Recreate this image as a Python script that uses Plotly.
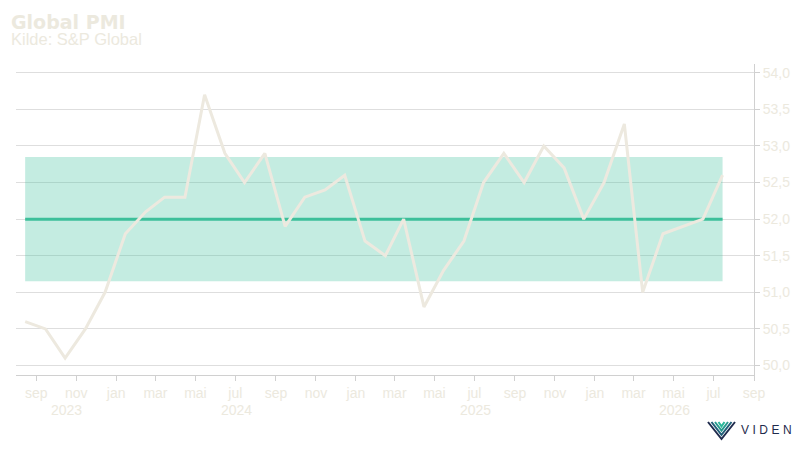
import pandas as pd
import plotly.graph_objects as go

# ---- data ----
dates = pd.date_range("2023-08-01", periods=36, freq="MS") + pd.Timedelta(days=14)
pmi = [50.6, 50.5, 50.1, 50.5, 51.0, 51.8, 52.1, 52.3, 52.3, 53.7, 52.9, 52.5,
       52.9, 51.9, 52.3, 52.4, 52.6, 51.7, 51.5, 52.0, 50.8, 51.3, 51.7, 52.5,
       52.9, 52.5, 53.0, 52.7, 52.0, 52.5, 53.3, 51.0, 51.8, 51.9, 52.0, 52.6]
mean_level = 52.0
band_upper = 52.85
band_lower = 51.15
month_names = ["jan", "feb", "mar", "apr", "mai", "jun",
               "jul", "aug", "sep", "okt", "nov", "des"]
tick_dates = pd.date_range("2023-09-01", "2026-09-01", freq="2MS")
tick_labels = [month_names[d.month - 1] for d in tick_dates]
x_start, x_end = pd.Timestamp("2023-08-01"), pd.Timestamp("2026-09-01")
years = [2023, 2024, 2025, 2026]

TXT = "#ece9de"
LINE = "#ede9df"
TEAL = "#3dbf9a"
GRID = "#dedede"
AXIS = "#d0d0d0"

# plot area in pixels (for placing outside text/logo)
L, R, T, B = 16, 754, 64, 375
def px(x):
    return (x - L) / (R - L)
def py(y):
    return (B - y) / (B - T)

fig = go.Figure()
fig.add_trace(go.Scatter(x=dates, y=[band_lower] * len(dates), mode="lines",
                         line=dict(width=0), hoverinfo="skip"))
fig.add_trace(go.Scatter(x=dates, y=[band_upper] * len(dates), mode="lines",
                         line=dict(width=0), fill="tonexty",
                         fillcolor="rgba(61,191,154,0.30)", hoverinfo="skip"))
fig.add_trace(go.Scatter(x=dates, y=[mean_level] * len(dates), mode="lines",
                         line=dict(color=TEAL, width=3)))
fig.add_trace(go.Scatter(x=dates, y=pmi, mode="lines",
                         line=dict(color=LINE, width=3)))

annotations = [
    dict(text="<b>Global PMI</b>", xref="paper", yref="paper", x=px(9), y=py(22),
         xanchor="left", yanchor="middle", showarrow=False,
         font=dict(family="DejaVu Sans", size=19, color=TXT)),
    dict(text="Kilde: S&P Global", xref="paper", yref="paper", x=px(9), y=py(38.5),
         xanchor="left", yanchor="middle", showarrow=False,
         font=dict(family="Liberation Sans", size=16.5, color=TXT)),
    dict(text='<span style="letter-spacing:3.5px">VIDEN</span>', xref="paper", yref="paper",
         x=px(739), y=py(430), xanchor="left", yanchor="middle", showarrow=False,
         font=dict(family="Liberation Sans", size=12, color="#1f2b4d")),
]
for yr in years:
    a = max(x_start, pd.Timestamp(f"{yr}-01-01"))
    b = min(x_end, pd.Timestamp(f"{yr + 1}-01-01"))
    mid = a + (b - a) / 2
    annotations.append(dict(text=str(yr), xref="x", yref="paper", x=mid, y=py(410),
                            xanchor="center", yanchor="middle", showarrow=False,
                            font=dict(family="Liberation Sans", size=14, color=TXT)))

# logo icon: nested chevrons
shapes = []
logo_cols = ["#1f2b4d", "#22607a", "#279a8d", "#2cb89b"]
for i, c in enumerate(logo_cols):
    x0, x1, xm = 708 + 3.5 * i, 735 - 3.5 * i, 721.5
    yb = 439 - 4.2 * i
    path = f"M {px(x0)} {py(422)} L {px(xm)} {py(yb)} L {px(x1)} {py(422)}"
    shapes.append(dict(type="path", xref="paper", yref="paper", path=path,
                       line=dict(color=c, width=2)))

fig.update_layout(
    width=800, height=450,
    margin=dict(l=L, r=800 - R, t=T, b=450 - B, autoexpand=False),
    paper_bgcolor="white", plot_bgcolor="white",
    showlegend=False, separators=", ",
    annotations=annotations, shapes=shapes,
    xaxis=dict(range=[x_start, x_end], tickmode="array", tickvals=tick_dates,
               ticktext=tick_labels, ticks="outside", ticklen=5, tickcolor=AXIS,
               showline=True, linecolor=AXIS, linewidth=1, showgrid=False,
               zeroline=False, automargin=False,
               tickfont=dict(family="Liberation Sans", size=14, color=TXT)),
    yaxis=dict(range=[49.87, 54.12], side="right", tickmode="array",
               tickvals=[50 + 0.5 * i for i in range(9)], tickformat=".1f",
               ticks="outside", ticklen=5, tickcolor=AXIS,
               showline=True, linecolor=AXIS, linewidth=1, automargin=False,
               showgrid=True, gridcolor=GRID, gridwidth=1, zeroline=False,
               tickfont=dict(family="Liberation Sans", size=14, color=TXT)),
)

fig.write_html("out.html", config={"displayModeBar": False},
               post_script="document.body.style.margin='0';")
